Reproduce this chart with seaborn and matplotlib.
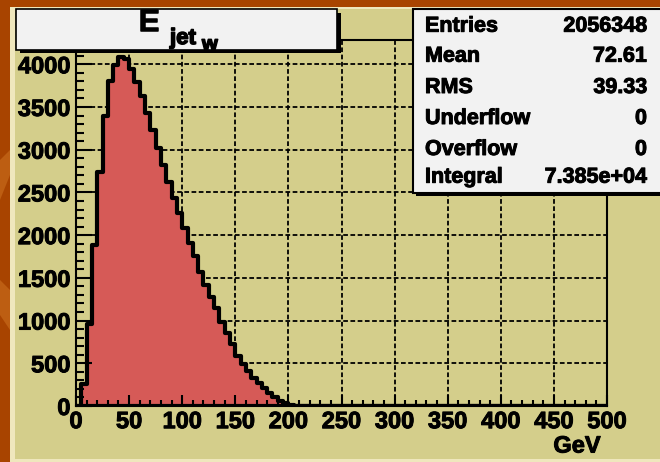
import numpy as np
import pandas as pd
import matplotlib
matplotlib.use("Agg")
import matplotlib.pyplot as plt
import matplotlib.patheffects as pe
import seaborn as sns
from matplotlib.patches import Rectangle, Polygon
from matplotlib.ticker import MultipleLocator

# ---- data: weighted jet energy histogram, 5 GeV bins from 0 to 500 ----
bin_edges = list(range(0, 505, 5))
filled_counts = [0, 260, 960, 1885, 2735, 3390, 3800, 3990, 4080, 4060,
                 3950, 3790, 3630, 3425, 3230, 3020, 2820, 2625, 2430, 2255,
                 2080, 1905, 1750, 1565, 1415, 1275, 1145, 985, 855, 725,
                 580, 490, 405, 330, 265, 205, 150, 100, 60, 30,
                 12, 5, 2, 1]
counts = filled_counts + [0] * (len(bin_edges) - 1 - len(filled_counts))

x_ticks = [0, 50, 100, 150, 200, 250, 300, 350, 400, 450, 500]
y_ticks = [0, 500, 1000, 1500, 2000, 2500, 3000, 3500, 4000]

stat_names = ["Entries", "Mean", "RMS", "Underflow", "Overflow", "Integral"]
stat_values = ["2056348", "72.61", "39.33", "0", "0", "7.385e+04"]

x_unit = "GeV"

# ---- colours ----
CANVAS = "#a84400"
STREAK = "#bd5e12"
BEVEL = "#efe7bd"
PAD = "#d4ce8b"
BOX = "#f2f2f2"
FILL = "#d65a57"

W, H = 660, 462
plt.rcParams["font.family"] = ["Liberation Sans", "DejaVu Sans"]
plt.rcParams["font.weight"] = "bold"

# heavier strokes for all lettering
HEAVY = [pe.Stroke(linewidth=0.7, foreground="black"), pe.Normal()]

fig = plt.figure(figsize=(W / 100, H / 100), dpi=100)
fig.patch.set_facecolor(CANVAS)


def fpos(x, y):
    """pixel position (from top-left) -> figure fraction"""
    return x / W, 1 - y / H


def fig_rect(x0, y0, x1, y1, **kw):
    r = Rectangle((x0 / W, 1 - y1 / H), (x1 - x0) / W, (y1 - y0) / H,
                  transform=fig.transFigure, **kw)
    fig.add_artist(r)
    return r


def fig_poly(pts, **kw):
    p = Polygon([fpos(x, y) for x, y in pts], closed=True,
                transform=fig.transFigure, **kw)
    fig.add_artist(p)
    return p


# lighter streaks in the canvas border
fig_poly([(0, 160), (10, 150), (10, 175), (0, 200)], facecolor=STREAK,
         edgecolor="none", zorder=-11)
fig_poly([(0, 280), (10, 290), (10, 330), (0, 315)], facecolor=STREAK,
         edgecolor="none", zorder=-11)

# pad background with light bevel
fig_rect(10, 7, 660, 462, facecolor=BEVEL, edgecolor="none", zorder=-10)
fig_rect(15, 9, 660, 459, facecolor=PAD, edgecolor="none", zorder=-9)

# ---- frame ----
ax = fig.add_axes([76 / W, 1 - 406 / H, 531 / W, 366 / H])
ax.set_facecolor("none")

edges = np.asarray(bin_edges, dtype=float)
df = pd.DataFrame({"E": (edges[:-1] + edges[1:]) / 2,
                   "w": np.asarray(counts, dtype=float)})
sns.histplot(data=df, x="E", weights="w", bins=bin_edges, element="step",
             fill=True, color=FILL, alpha=1, edgecolor="black", linewidth=3,
             ax=ax, zorder=1)

ax.set_xlim(bin_edges[0], bin_edges[-1])
ax.set_ylim(0, 1.05 * max(counts))
ax.set_xticks(x_ticks)
ax.set_yticks(y_ticks)
ax.set_xticklabels([str(v) for v in x_ticks])
ax.set_yticklabels([str(v) for v in y_ticks])
ax.xaxis.set_minor_locator(MultipleLocator(10))
ax.yaxis.set_minor_locator(MultipleLocator(100))

ax.tick_params(which="both", direction="in", color="black", width=1.5,
               labelsize=17)
ax.tick_params(axis="x", which="major", length=8, pad=3)
ax.tick_params(axis="x", which="minor", length=4)
ax.tick_params(axis="y", which="major", length=11.5, pad=4)
ax.tick_params(axis="y", which="minor", length=5.8)
for lab in ax.get_xticklabels() + ax.get_yticklabels():
    lab.set_fontweight("bold")
    lab.set_path_effects(HEAVY)

# dashed grid beneath the histogram
for v in x_ticks[1:-1]:
    ax.axvline(v, color="black", lw=1.3, ls=(0, (2.6, 1.4)), zorder=0.5)
for v in y_ticks[1:]:
    ax.axhline(v, color="black", lw=1.3, ls=(0, (2.6, 1.4)), zorder=0.5)

for s in ax.spines.values():
    s.set_linewidth(1.5)
    s.set_color("black")

ax.set_ylabel("")
xl = ax.set_xlabel(x_unit, loc="right", fontsize=17, fontweight="bold")
xl.set_path_effects(HEAVY)
ax.xaxis.set_label_coords(0.988, -0.078)

# ---- title box ----
fig_rect(20, 12.5, 340.5, 53, facecolor="black", edgecolor="none", zorder=5)
fig_rect(16, 9.3, 337, 49.5, facecolor=BOX, edgecolor="black", lw=1.2, zorder=6)
TITLE_HEAVY = [pe.Stroke(linewidth=1.1, foreground="black"), pe.Normal()]
for txt, x, y, size in [("E", 139, 31, 22), ("jet", 170, 44, 16),
                        ("w", 202, 50, 14.5)]:
    fig.text(*fpos(x, y), txt, fontsize=size, fontweight="bold",
             va="baseline", ha="left", zorder=7, path_effects=TITLE_HEAVY)

# ---- statistics box ----
fig_rect(416, 12, 664, 196, facecolor="black", edgecolor="none", zorder=5)
fig_rect(413, 9.3, 664, 193, facecolor=BOX, edgecolor="black", lw=1.5, zorder=6)
row_baselines = [31.7, 61.7, 93, 124, 155, 182.7]
for name, val, yb in zip(stat_names, stat_values, row_baselines):
    fig.text(*fpos(425, yb), name, fontsize=15.5, fontweight="bold",
             va="baseline", ha="left", zorder=7, path_effects=HEAVY)
    fig.text(*fpos(647, yb), val, fontsize=15.5, fontweight="bold",
             va="baseline", ha="right", zorder=7, path_effects=HEAVY)

fig.savefig("out.png", dpi=100, facecolor=fig.get_facecolor())
